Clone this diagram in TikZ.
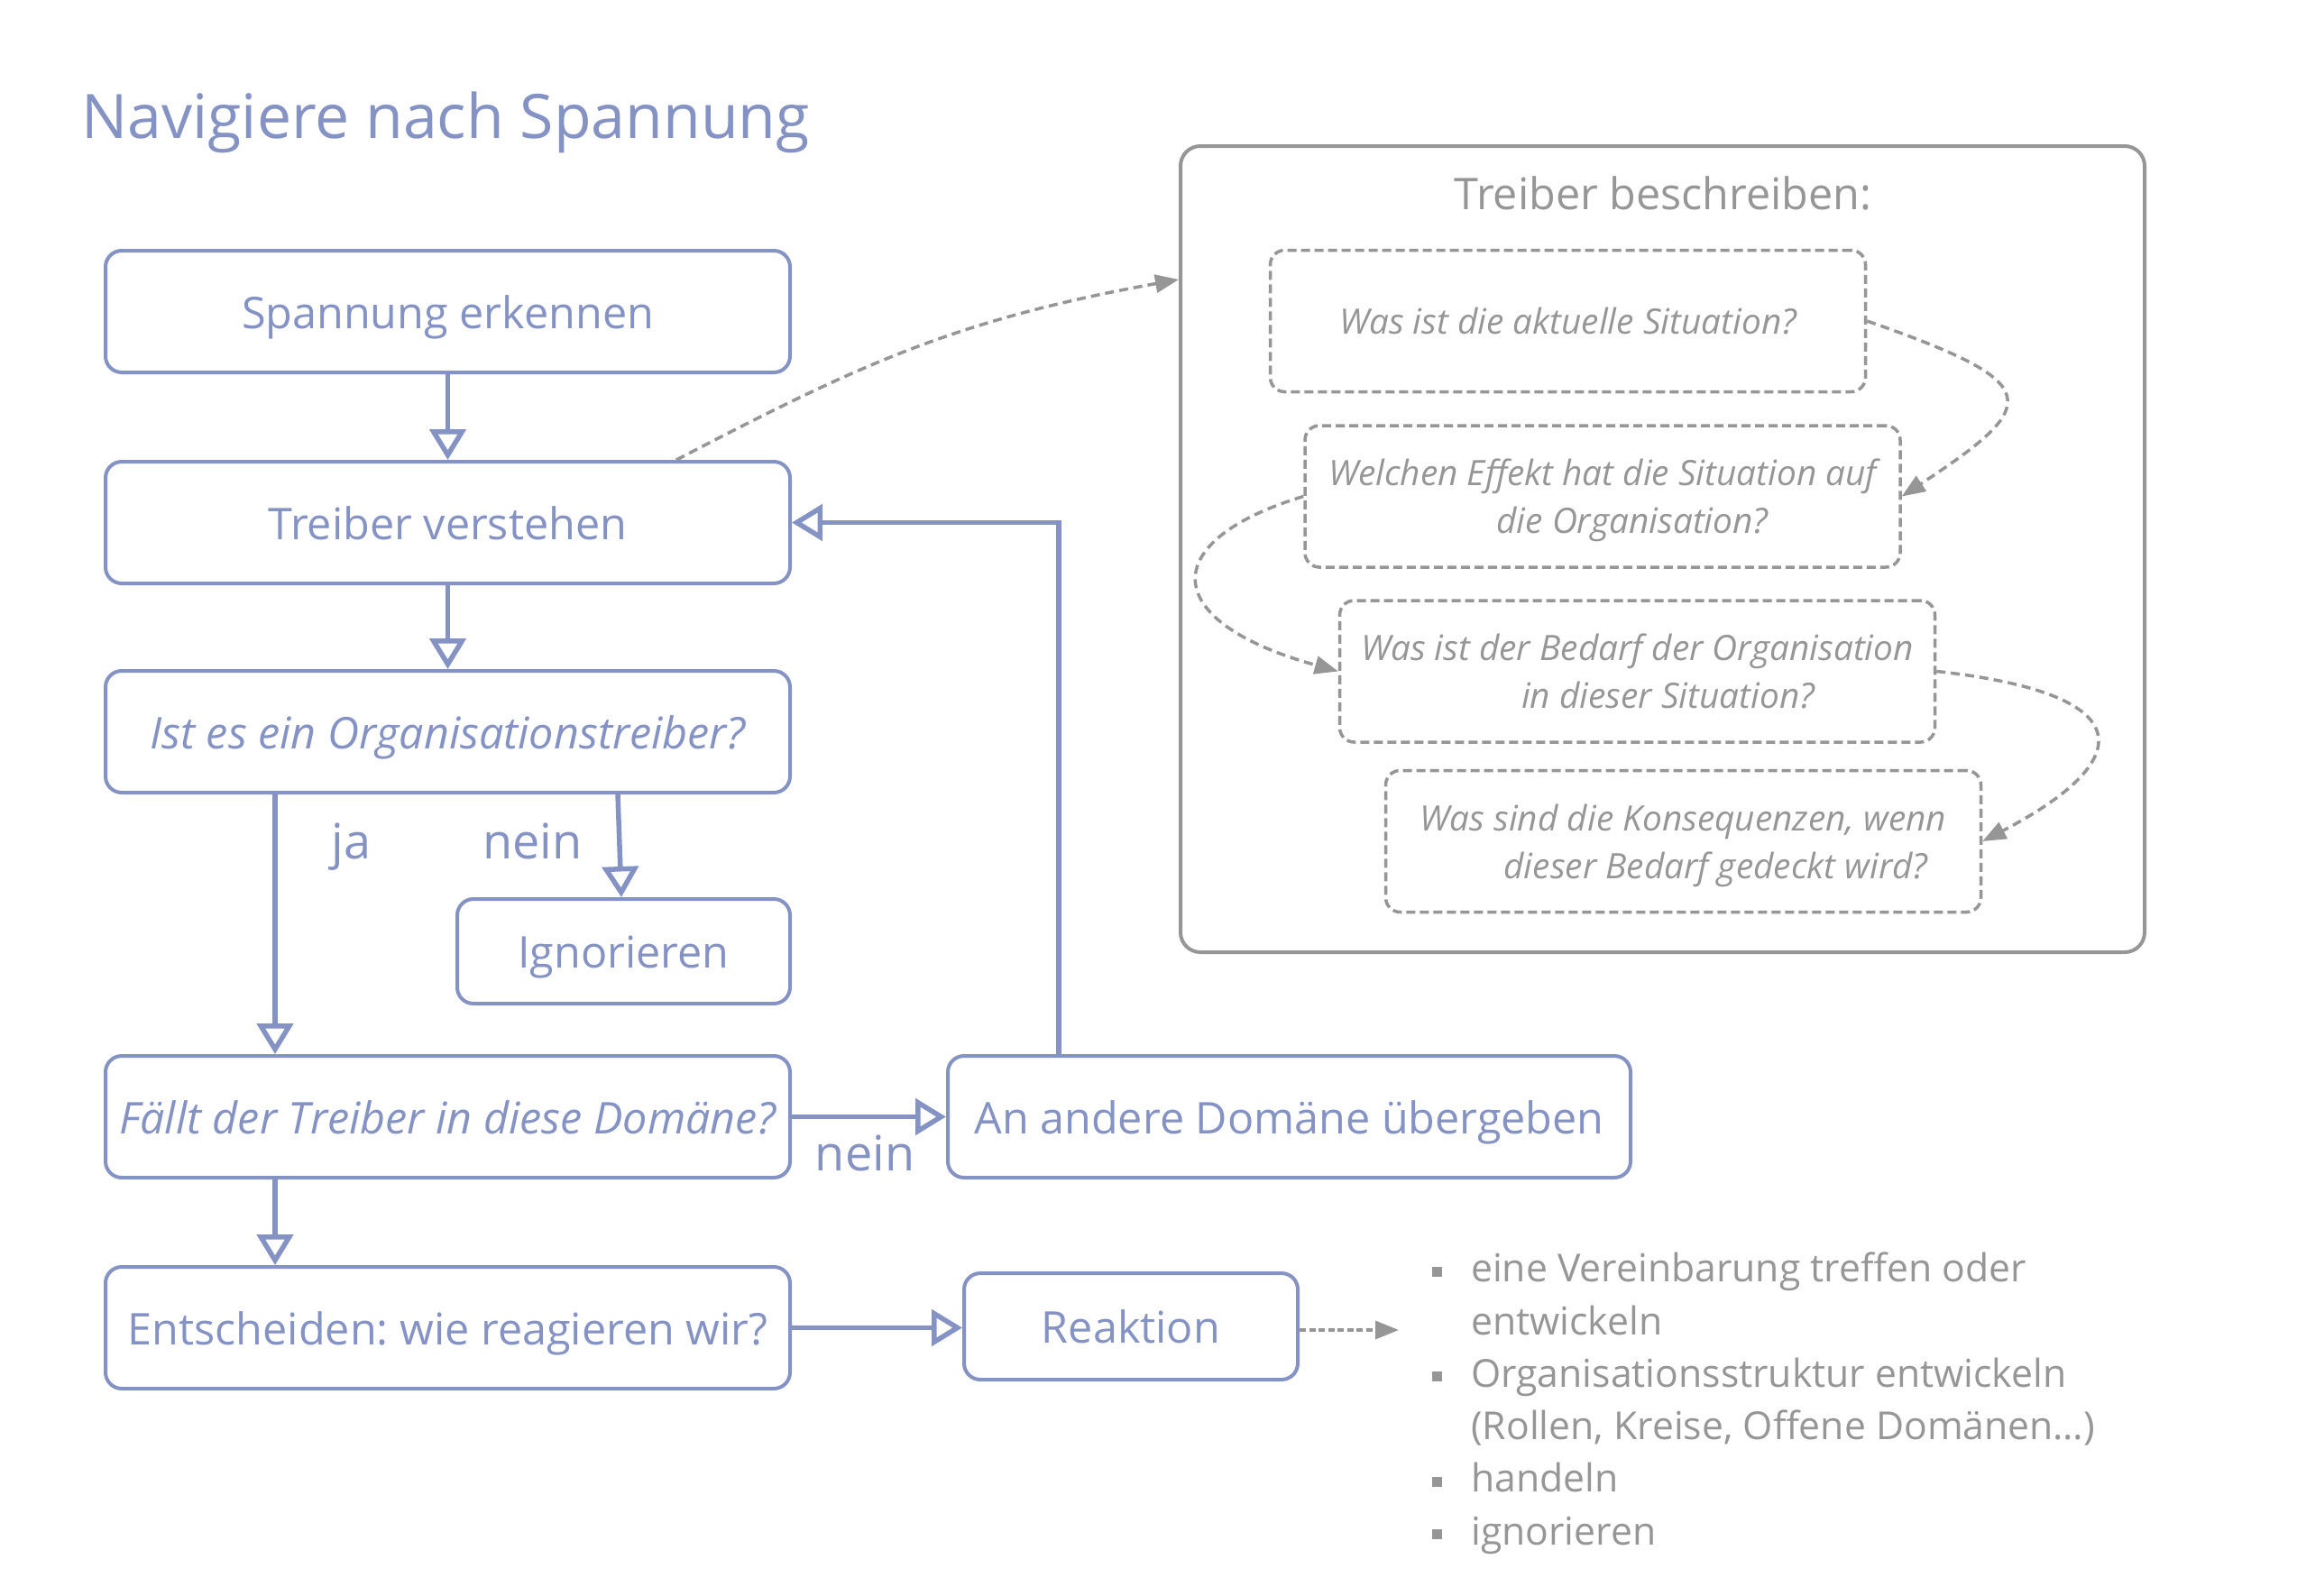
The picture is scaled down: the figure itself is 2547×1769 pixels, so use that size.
\documentclass[tikz,border=0pt]{standalone}
\usepackage{fontspec}
\setmainfont{Open Sans}
\usetikzlibrary{arrows.meta,calc}
\definecolor{nblue}{RGB}{132,146,196}
\definecolor{ngray}{RGB}{150,150,150}
\newcommand\nblt{\raisebox{6pt}{\rule{11pt}{11pt}}}
\frenchspacing
\begin{document}
\begin{tikzpicture}[x=1pt,y=-1pt,
  bbox/.style={draw=nblue, line width=4pt, rounded corners=18pt, text=nblue,
    font=\fontsize{48.5}{58}\selectfont, inner sep=0pt, text height=37pt, text depth=0pt},
  bigbox/.style={bbox, minimum width=759pt, minimum height=135pt},
  smallbox/.style={bbox, minimum width=370pt, minimum height=117pt},
  dbox/.style={draw=ngray, dash pattern=on 10pt off 5pt, line width=3.5pt,
    rounded corners=16pt, text=ngray, font=\itshape\fontsize{38.8}{53}\selectfont,
    align=center, minimum width=660pt, minimum height=157pt, inner sep=0pt,
    text height=29.5pt, text depth=0pt},
  dbox2/.style={dbox, text height=82.5pt, text depth=0pt},
  barrow/.style={draw=nblue, line width=5.5pt,
    -{Triangle[open, length=34pt, width=40pt]}},
  gcurve/.style={draw=ngray, line width=3.5pt, dash pattern=on 10pt off 6pt,
    -{Triangle[length=26pt, width=20pt]}},
  gdots/.style={draw=ngray, line width=3.5pt, dash pattern=on 7pt off 3.5pt,
    -{Triangle[length=26pt, width=20pt]}},
  lbl/.style={anchor=base, inner sep=0pt, text=nblue, font=\fontsize{54}{60}\selectfont}
]
\useasboundingbox (0,0) rectangle (2547,1769);
\fill[white] (0,0) rectangle (2547,1769);

\node[anchor=base west, inner sep=0pt, text=nblue, font=\fontsize{68}{80}\selectfont] (title) at (90,153) {Navigiere nach Spannung};

% left flow
\node[bigbox] (b1) at (496.5,345.5) {Spannung erkennen};
\node[bigbox] (b2) at (496.5,579.5) {Treiber verstehen};
\node[bigbox, font=\itshape\fontsize{48.5}{58}\selectfont] (b3) at (496.5,811.5) {Ist es ein Organisationstreiber?};
\node[smallbox, minimum width=369pt, minimum height=116pt] (ign) at (691.5,1055) {Ignorieren};
\node[bigbox, font=\itshape\fontsize{48.5}{58}\selectfont] (b5) at (496.5,1238.5) {Fällt der Treiber in diese Domäne?};
\node[bigbox, minimum width=757pt] (b6) at (1429.5,1238.5) {An andere Domäne übergeben};
\node[bigbox] (b7) at (496.5,1472.5) {Entscheiden: wie reagieren wir?};
\node[smallbox, minimum height=118pt] (reak) at (1254,1471) {Reaktion};

\node[lbl] (ja) at (389.5,952) {ja};
\node[lbl] (nein1) at (590.5,952) {nein};
\node[lbl] (nein2) at (959,1298) {nein};

\draw[barrow] (b1.south) -- (b2.north);
\draw[barrow] (b2.south) -- (b3.north);
\draw[barrow] ([xshift=-191.5pt]b3.south) -- ([xshift=-191.5pt]b5.north);
\draw[barrow] ([xshift=188.5pt]b3.south) -- ([xshift=-2.5pt]ign.north);
\draw[barrow] (b5.east) -- (b6.west);
\draw[barrow] ([xshift=-255.5pt]b6.north) |- (b2.east);
\draw[barrow] ([xshift=-191.5pt]b5.south) -- ([xshift=-191.5pt]b7.north);
\draw[barrow] (b7.east) -- (b7.east -| reak.west);

% grey panel
\node[draw=ngray, line width=4pt, rounded corners=22pt, minimum width=1069pt, minimum height=894pt, inner sep=0pt] (gbox) at (1843.5,609) {};
\node[anchor=base, inner sep=0pt, text=ngray, font=\fontsize{48.5}{56}\selectfont] (gtitle) at (1844,232) {Treiber beschreiben:};

\node[dbox] (d1) at (1738.5,356) {Was ist die aktuelle Situation?};
\node[dbox2] (d2) at (1777,550.5) {Welchen Effekt hat die Situation auf\\\hspace*{66pt}die Organisation?};
\node[dbox2] (d3) at (1815.5,744.5) {Was ist der Bedarf der Organisation\\\hspace*{68pt}in dieser Situation?};
\node[dbox2] (d4) at (1866.5,933) {Was sind die Konsequenzen, wenn\\\hspace*{72pt}dieser Bedarf gedeckt wird?};

\draw[gcurve] ([xshift=253.5pt]b2.north) .. controls (950,406) and (1057,355) .. ([shift={(0,150)}]gbox.north west);
\draw[gcurve] (d1.east) .. controls (2268,425) and (2266,447) .. (d2.east);
\draw[gcurve] (d2.west) .. controls (1282,600) and (1284,689) .. (d3.west);
\draw[gcurve] (d3.east) .. controls (2380,770) and (2367,845) .. (d4.east);

% reaction list
\coordinate (rend) at (1551,1475);
\draw[gdots] ([yshift=-4pt]reak.east) -- (rend);
\node[anchor=base west, inner sep=0pt, text=ngray, font=\fontsize{42.7}{58.3}\selectfont] (lst) at (1588,1421.7)
  {\begin{tabular}[t]{@{}l@{\hspace{32pt}}l@{}}
   \nblt & eine Vereinbarung treffen oder\\
         & entwickeln\\
   \nblt & Organisationsstruktur entwickeln\\
         & (Rollen, Kreise, Offene Domänen…)\\
   \nblt & handeln\\
   \nblt & ignorieren
   \end{tabular}};
\end{tikzpicture}
\end{document}
